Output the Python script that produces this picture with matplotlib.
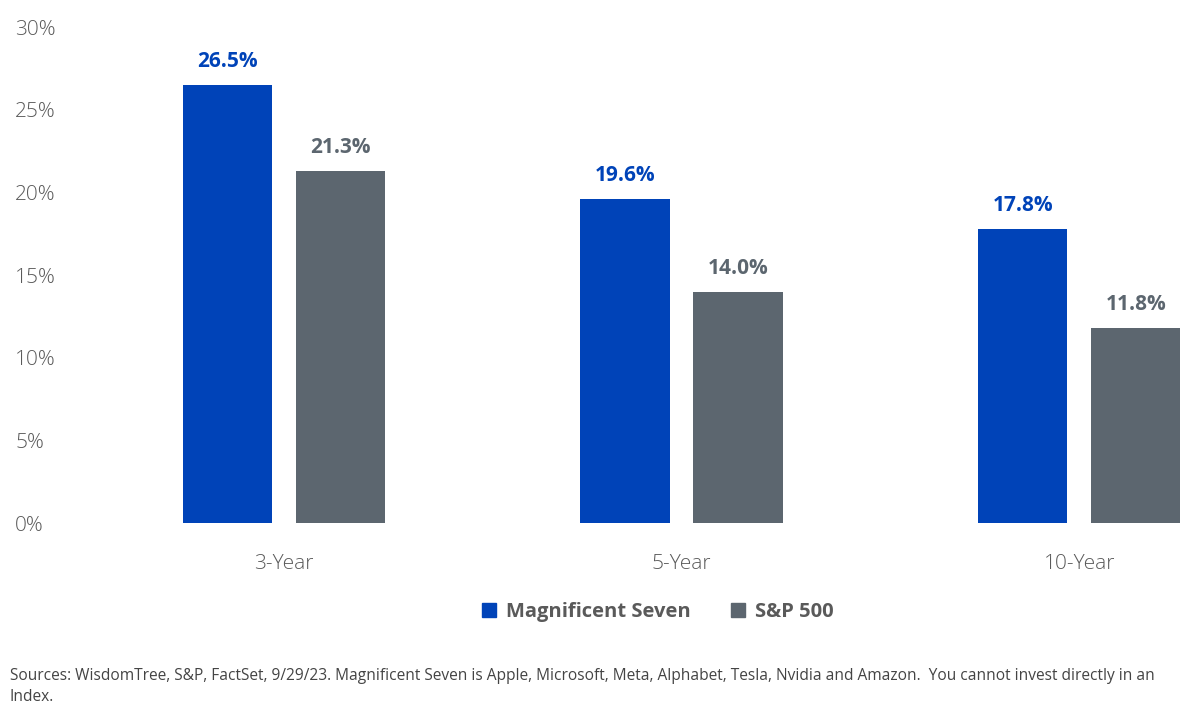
import matplotlib.pyplot as plt
import numpy as np
from matplotlib.patches import Patch

periods = ['3-Year', '5-Year', '10-Year']
mag_seven = [26.5, 19.6, 17.8]
sp500 = [21.3, 14.0, 11.8]

blue = '#0043B8'
gray = '#5C666F'
text_gray = '#5a5a5a'

fig = plt.figure(figsize=(12, 7.19), dpi=100)
ax = fig.add_axes([0.054, 0.2726, 0.935, 0.6898])

x = np.arange(len(periods))
w = 0.224
off = 0.142
b1 = ax.bar(x - off, mag_seven, w, color=blue)
b2 = ax.bar(x + off, sp500, w, color=gray)

# value labels above each bar
for bars, vals, c in [(b1, mag_seven, blue), (b2, sp500, gray)]:
    for r, v in zip(bars, vals):
        ax.annotate(f'{v:.1f}%', (r.get_x() + r.get_width() / 2, v),
                    xytext=(0, 9), textcoords='offset points',
                    ha='center', va='bottom', fontsize=15, fontweight='bold',
                    color=c, family='Open Sans')

ax.set_xlim(-0.55, 2.27)
ax.set_ylim(0, 30)
ax.set_yticks(range(0, 31, 5))
ax.set_yticklabels([f'{t}%' for t in range(0, 31, 5)])
ax.set_xticks(x)
ax.set_xticklabels(periods)
for s in ax.spines.values():
    s.set_visible(False)
ax.tick_params(length=0, labelsize=15, labelcolor=text_gray)
ax.tick_params(axis='x', pad=22)
for lab in ax.get_xticklabels() + ax.get_yticklabels():
    lab.set_family('Open Sans')
    lab.set_fontweight('light')
for lab in ax.get_yticklabels():
    lab.set_horizontalalignment('left')
    lab.set_x(-0.040)

handles = [Patch(color=blue, label='Magnificent Seven'),
           Patch(color=gray, label='S&P 500')]
leg = fig.legend(handles=handles, loc='center', bbox_to_anchor=(0.548, 0.149),
                 ncol=2, frameon=False, handlelength=0.7, handleheight=0.7,
                 handletextpad=0.5, columnspacing=2.0,
                 prop={'family': 'Open Sans', 'weight': 'bold', 'size': 14.5})
for t in leg.get_texts():
    t.set_color(text_gray)

fig.text(0.008, 0.045, 'Sources: WisdomTree, S&P, FactSet, 9/29/23. Magnificent Seven is Apple, Microsoft, Meta, '
         'Alphabet, Tesla, Nvidia and Amazon.  You cannot invest directly in an\nIndex.',
         fontsize=11.2, color='#444444', family='Open Sans',
         va='center', ha='left', linespacing=1.45)

fig.savefig('out.png', dpi=100, facecolor='white')
